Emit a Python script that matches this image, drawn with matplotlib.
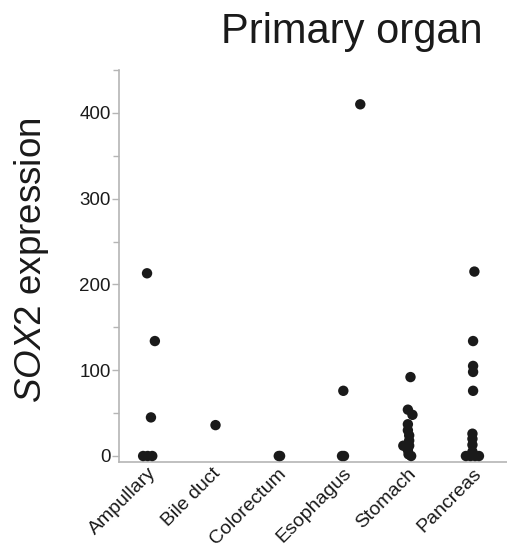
import matplotlib
matplotlib.use("Agg")
import matplotlib.pyplot as plt
from matplotlib.ticker import MultipleLocator

plt.rcParams['font.family'] = ['Liberation Sans', 'DejaVu Sans']
plt.rcParams['mathtext.fontset'] = 'custom'
plt.rcParams['mathtext.rm'] = 'Liberation Sans'
plt.rcParams['mathtext.it'] = 'Liberation Sans:italic'

# ---- data ----
categories = ["Ampullary", "Bile duct", "Colorectum", "Esophagus", "Stomach", "Pancreas"]
ampullary = [0, 0, 0, 45, 134, 213]
bile_duct = [36]
colorectum = [0, 0]
esophagus = [0, 0, 76, 410]
stomach = [0, 2, 7, 12, 12, 18, 24, 30, 37, 48, 54, 92]
pancreas = [0, 0, 0, 0, 2, 5, 13, 20, 26, 76, 98, 105, 134, 215]
y_ticks = [0, 100, 200, 300, 400]
title = "Primary organ"
ylabel = r"$\mathit{SOX2}$ expression"

# ---- layout / style (horizontal jitter in category units) ----
jitter = [
    [-0.06, 0.01, 0.08, 0.06, 0.12, 0.0],
    [0.05],
    [0.02, 0.04],
    [-0.01, 0.02, 0.01, 0.27],
    [0.05, 0.01, 0.0, 0.02, -0.07, 0.02, 0.02, 0.0, 0.0, 0.07, 0.0, 0.04],
    [-0.11, -0.04, 0.03, 0.09, -0.01, -0.01, -0.01, -0.01, -0.01, 0.0, 0.0, 0.0, 0.0, 0.02],
]
series = [ampullary, bile_duct, colorectum, esophagus, stomach, pancreas]

W, H = 507, 548
fig = plt.figure(figsize=(W / 100, H / 100), dpi=100)
ax = fig.add_axes([119 / W, 86 / H, 388 / W, 392 / H])

for i, (vals, jit) in enumerate(zip(series, jitter)):
    xs = [i + j for j in jit]
    ax.scatter(xs, vals, s=56, color="#1a1a1a", edgecolors="none", zorder=3, clip_on=False)

ax.set_xlim(-0.43, 5.52)
ax.set_ylim(-7, 450)
ax.set_xticks(range(len(categories)))
ax.set_xticklabels(categories, rotation=45, ha="right", va="top",
                   rotation_mode="anchor", fontsize=14)
ax.set_yticks(y_ticks)
ax.set_yticklabels([str(v) for v in y_ticks], fontsize=13.5)
ax.yaxis.set_minor_locator(MultipleLocator(50))

spine_c = "#b5b5b5"
for s in ["top", "right"]:
    ax.spines[s].set_visible(False)
for s in ["left", "bottom"]:
    ax.spines[s].set_color(spine_c)
    ax.spines[s].set_linewidth(1.2)
ax.tick_params(axis="y", which="major", length=5, width=1.0, color=spine_c, pad=1, labelcolor="#1a1a1a")
ax.tick_params(axis="y", which="minor", length=4, width=1.0, color=spine_c)
ax.tick_params(axis="x", which="both", length=0, pad=2, labelcolor="#1a1a1a")

fig.text(352 / W, 1 - 43.5 / H, title, ha="center", va="baseline", fontsize=30, color="#1a1a1a")
fig.text(32 / W, 1 - 260 / H, ylabel, ha="center", va="center", rotation=90, fontsize=26.5, color="#1a1a1a")

fig.savefig("out.png", dpi=100)
